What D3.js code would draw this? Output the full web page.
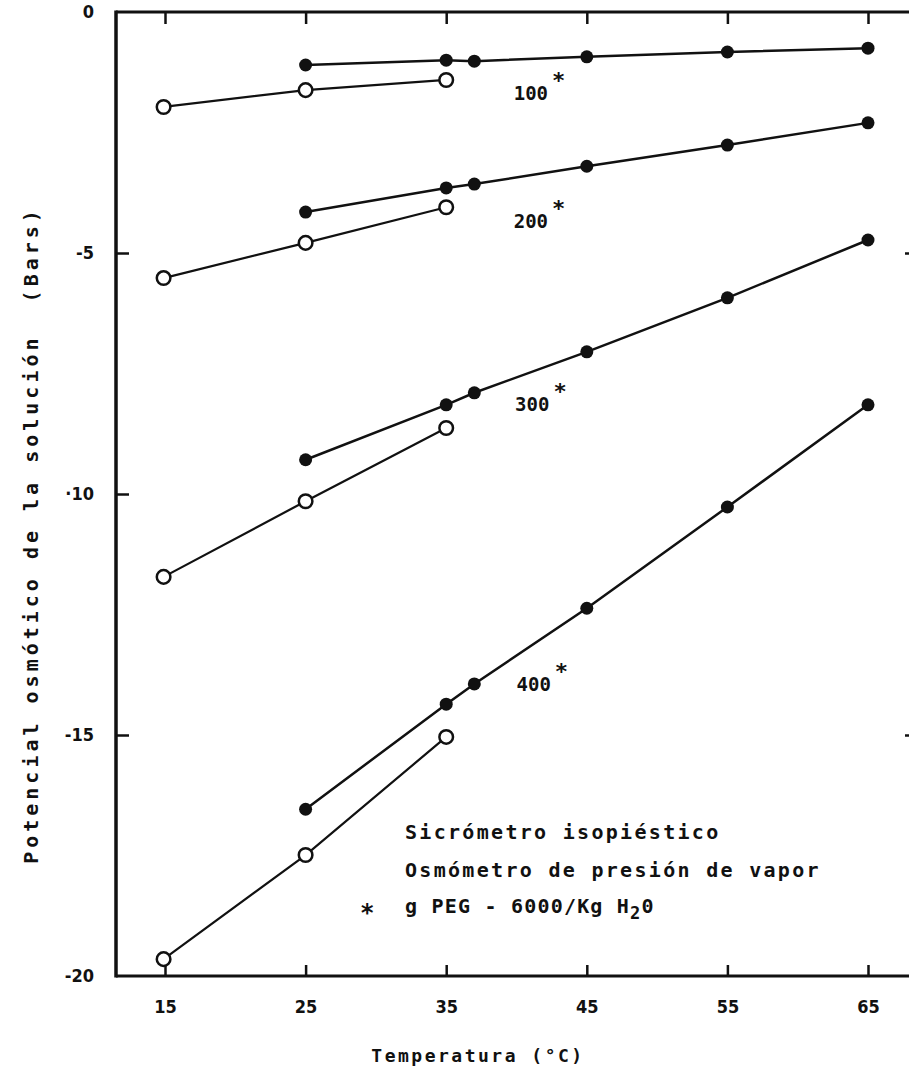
<!DOCTYPE html>
<html>
<head>
<meta charset="utf-8">
<script src="https://cdn.jsdelivr.net/npm/d3@7"></script>
<style>
  body { margin: 0; background: #fff; }
  svg text { fill: #111; font-family: "DejaVu Sans Mono", monospace; font-weight: bold; }
</style>
</head>
<body>
<div id="chart"></div>
<script>
// datos
var temp_filled = [25, 35, 37, 45, 55, 65];   // sicrometro isopiestico
var temp_open = [14.9, 25, 35];               // osmometro de presion de vapor

var filled_100 = [-1.10, -1.00, -1.02, -0.93, -0.83, -0.75];
var filled_200 = [-4.15, -3.65, -3.57, -3.20, -2.76, -2.30];
var filled_300 = [-9.29, -8.15, -7.90, -7.05, -5.93, -4.73];
var filled_400 = [-16.54, -14.36, -13.94, -12.37, -10.27, -8.15];

var open_100 = [-1.97, -1.62, -1.41];
var open_200 = [-5.52, -4.79, -4.05];
var open_300 = [-11.72, -10.15, -8.63];
var open_400 = [-19.65, -17.49, -15.04];

var conc_labels = ["100", "200", "300", "400"];
var label_pos = [[39.8, -1.83], [39.8, -4.48], [39.9, -8.28], [40.0, -14.09]]; // [temp, valor] del texto

var x_ticks = [15, 25, 35, 45, 55, 65];
var y_ticks = [0, -5, -10, -15, -20];
var y_tick_text = ["0", "-5", "\u00b710", "-15", "-20"];

var legend_lines = ["Sicr\u00f3metro isopi\u00e9stico", "Osm\u00f3metro de presi\u00f3n de vapor"];

// variables globales
var svg_w = 909;
var svg_h = 1077;
var left = 116, top_ = 12, right = 915, bottom = 976;

var svg = d3.select("#chart")
	.append("svg")
	.attr("width", svg_w)
	.attr("height", svg_h);

// escalas
var x = d3.scaleLinear()
	.domain([15, 65])
	.range([165, 868]);

var y = d3.scaleLinear()
	.domain([0, -20])
	.range([top_, bottom]);

// marco y ejes
svg.append("line")
	.attr("x1", left).attr("x2", left)
	.attr("y1", top_ - 1.5).attr("y2", bottom + 1.5)
	.attr("stroke", "#111").attr("stroke-width", 3.5);
svg.append("line")
	.attr("x1", left).attr("x2", right)
	.attr("y1", top_).attr("y2", top_)
	.attr("stroke", "#111").attr("stroke-width", 3);
svg.append("line")
	.attr("x1", left).attr("x2", right)
	.attr("y1", bottom).attr("y2", bottom)
	.attr("stroke", "#111").attr("stroke-width", 3);

// ticks abajo (hacia arriba)
var x_axis_bottom = d3.axisBottom(x).tickValues(x_ticks).tickSize(-11).tickPadding(24);
var gb = svg.append("g")
	.attr("transform", "translate(0," + bottom + ")")
	.call(x_axis_bottom);
gb.select(".domain").remove();
gb.selectAll("line").attr("stroke", "#111").attr("stroke-width", 2.5);
gb.selectAll("text")
	.attr("font-size", 18)
	.style("font-family", "'DejaVu Sans Condensed', sans-serif");

// ticks arriba (hacia abajo)
var gt = svg.append("g")
	.attr("transform", "translate(0," + top_ + ")")
	.call(d3.axisTop(x).tickValues(x_ticks).tickSize(-12).tickFormat(""));
gt.select(".domain").remove();
gt.selectAll("line").attr("stroke", "#111").attr("stroke-width", 2.5);

// eje izquierdo
var y_axis = d3.axisLeft(y)
	.tickValues(y_ticks)
	.tickSize(-13)
	.tickPadding(22)
	.tickFormat(function(d, i) { return y_tick_text[i]; });
var gl = svg.append("g")
	.attr("transform", "translate(" + left + ",0)")
	.call(y_axis);
gl.select(".domain").remove();
gl.selectAll("line")
	.attr("stroke", "#111").attr("stroke-width", 2.5)
	.attr("display", function(d) { return (d == 0 || d == -20) ? "none" : null; });
gl.selectAll("text")
	.attr("font-size", 18)
	.style("font-family", "'DejaVu Sans Condensed', sans-serif");

// eje derecho (fuera del recorte, solo se ven los ticks)
var gr = svg.append("g")
	.attr("transform", "translate(" + right + ",0)")
	.call(d3.axisRight(y).tickValues([-5, -15]).tickSize(-10).tickFormat(""));
gr.select(".domain").remove();
gr.selectAll("line").attr("stroke", "#111").attr("stroke-width", 2.5);

// series
var filled_series = [filled_100, filled_200, filled_300, filled_400];
var open_series = [open_100, open_200, open_300, open_400];

var line = d3.line()
	.x(function(d) { return x(d[0]); })
	.y(function(d) { return y(d[1]); });

function pares(temps, vals) {
	return temps.map(function(t, i) { return [t, vals[i]]; });
}

for (var q = 0; q < 4; q++) {
	var fdata = pares(temp_filled, filled_series[q]);
	var odata = pares(temp_open, open_series[q]);

	svg.append("path")
		.datum(fdata)
		.attr("d", line)
		.attr("fill", "none")
		.attr("stroke", "#111")
		.attr("stroke-width", 2.5);

	svg.append("path")
		.datum(odata)
		.attr("d", line)
		.attr("fill", "none")
		.attr("stroke", "#111")
		.attr("stroke-width", 2.2);

	svg.append("g").selectAll("circle")
		.data(fdata)
		.enter()
		.append("circle")
		.attr("cx", function(d) { return x(d[0]); })
		.attr("cy", function(d) { return y(d[1]); })
		.attr("r", 6.5)
		.attr("fill", "#111");

	svg.append("g").selectAll("circle")
		.data(odata)
		.enter()
		.append("circle")
		.attr("cx", function(d) { return x(d[0]); })
		.attr("cy", function(d) { return y(d[1]); })
		.attr("r", 6.8)
		.attr("fill", "#fff")
		.attr("stroke", "#111")
		.attr("stroke-width", 2.5);

	// etiqueta de concentracion
	var lab = svg.append("text")
		.attr("x", x(label_pos[q][0]))
		.attr("y", y(label_pos[q][1]))
		.attr("font-size", 19);
	lab.append("tspan").text(conc_labels[q]);
	lab.append("tspan")
		.attr("dx", 4)
		.attr("dy", -12)
		.attr("font-size", 22)
		.text("*");
}

// leyenda
var legend = svg.append("g");
legend.selectAll("text.leg")
	.data(legend_lines)
	.enter()
	.append("text")
	.attr("class", "leg")
	.attr("x", 405)
	.attr("y", function(d, i) { return 839 + i * 38; })
	.attr("font-size", 20)
	.attr("letter-spacing", 2.3)
	.text(function(d) { return d; });

legend.append("text")
	.attr("x", 360)
	.attr("y", 921)
	.attr("font-size", 24)
	.text("*");

var leg3 = legend.append("text")
	.attr("x", 405)
	.attr("y", 913)
	.attr("font-size", 20)
	.attr("letter-spacing", 1.2);
leg3.append("tspan").text("g PEG - 6000/Kg H");
leg3.append("tspan").attr("dy", 6).attr("font-size", 17).text("2");
leg3.append("tspan").attr("dy", -6).text("0");

// titulos de ejes
svg.append("text")
	.attr("x", 478)
	.attr("y", 1062)
	.attr("text-anchor", "middle")
	.attr("font-size", 18)
	.attr("letter-spacing", 2.5)
	.text("Temperatura (\u00b0C)");

svg.append("text")
	.attr("transform", "translate(38,535) rotate(-90)")
	.attr("text-anchor", "middle")
	.attr("font-size", 20)
	.attr("letter-spacing", 4)
	.style("white-space", "pre")
	.text("Potencial osm\u00f3tico de la soluci\u00f3n  (Bars)");
</script>
</body>
</html>
